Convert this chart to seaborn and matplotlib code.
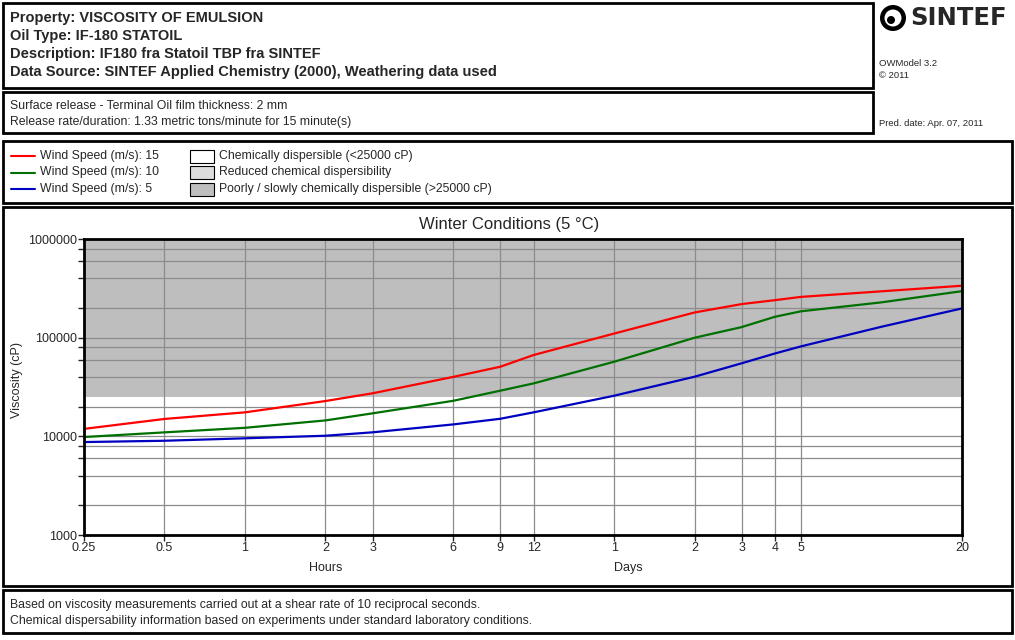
import numpy as np
import pandas as pd
import matplotlib
matplotlib.use("Agg")
import matplotlib.pyplot as plt
import matplotlib.ticker as mticker
from matplotlib.patches import Rectangle, Ellipse
from matplotlib.lines import Line2D
import seaborn as sns

# sample times in hours
hours = [0.25, 0.5, 1, 2, 3, 6, 9, 12, 24, 48, 72, 96, 120, 240, 480]
# viscosity (cP)
visc_15 = [11900, 15000, 17500, 22800, 27300, 40000, 50700, 66700, 110000,
           180000, 219000, 240000, 259000, 295000, 336000]
visc_10 = [9840, 10970, 12200, 14500, 17100, 22900, 29000, 34400, 57000,
           99800, 128000, 163000, 185000, 228000, 296000]
visc_5 = [8750, 9020, 9550, 10140, 10980, 13200, 15060, 17500, 25800,
          40200, 55000, 69200, 81600, 129000, 198000]

wind_labels = ["Wind Speed (m/s): 15", "Wind Speed (m/s): 10", "Wind Speed (m/s): 5"]
wind_colors = ["#ff0000", "#007000", "#0000c0"]

tick_hours = [0.25, 0.5, 1, 2, 3, 6, 9, 12, 24, 48, 72, 96, 120, 480]
tick_labels = ["0.25", "0.5", "1", "2", "3", "6", "9", "12", "1", "2", "3", "4", "5", "20"]
y_ticks = [1000, 10000, 100000, 1000000]
y_minor = [m * 10 ** k for k in (3, 4, 5) for m in (2, 4, 6, 8)]
threshold = 25000

header_lines = ["Property: VISCOSITY OF EMULSION",
                "Oil Type: IF-180 STATOIL",
                "Description: IF180 fra Statoil TBP fra SINTEF",
                "Data Source: SINTEF Applied Chemistry (2000), Weathering data used"]
release_lines = ["Surface release - Terminal Oil film thickness: 2 mm",
                 "Release rate/duration: 1.33 metric tons/minute for 15 minute(s)"]
zone_labels = ["Chemically dispersible (<25000 cP)",
               "Reduced chemical dispersibility",
               "Poorly / slowly chemically dispersible (>25000 cP)"]
zone_colors = ["#ffffff", "#dcdcdc", "#bebebe"]
footer_lines = ["Based on viscosity measurements carried out at a shear rate of 10 reciprocal seconds.",
                "Chemical dispersability information based on experiments under standard laboratory conditions."]

df = pd.DataFrame({
    "hours": hours * 3,
    "visc": visc_15 + visc_10 + visc_5,
    "wind": [wind_labels[0]] * len(hours) + [wind_labels[1]] * len(hours) + [wind_labels[2]] * len(hours),
})

sns.set_style("white")
plt.rcParams['font.family'] = ['Liberation Sans', 'DejaVu Sans']

W, H = 1015, 640
fig = plt.figure(figsize=(W / 100, H / 100), dpi=100)


def fx(x):
    return x / W


def fy(y):
    return 1 - y / H


def box(x0, y0, x1, y1):
    fig.add_artist(Rectangle((fx(x0), fy(y1)), fx(x1 - x0), y1 / H - y0 / H,
                             transform=fig.transFigure, fill=False, ec="black", lw=2))


def txt(x, y, s, **kw):
    fig.text(fx(x), fy(y), s, va="center", **kw)


# panels
box(3, 3, 873, 88)
box(3, 92, 873, 133)
box(3, 141, 1012, 203)
box(3, 207, 1012, 586)
box(3, 590, 1012, 633)

for i, s in enumerate(header_lines):
    txt(10, 18 + i * 18, s, fontsize=10.5, fontweight="bold")
for i, s in enumerate(release_lines):
    txt(10, 106 + i * 16, s, fontsize=8.8)
for i, s in enumerate(footer_lines):
    txt(10, 605 + i * 16, s, fontsize=8.8)

# logo and side texts
fig.add_artist(Ellipse((fx(893), fy(18)), 26 / W, 26 / H, transform=fig.transFigure,
                       fc="black", ec="none"))
fig.add_artist(Ellipse((fx(893), fy(18)), 17 / W, 17 / H, transform=fig.transFigure,
                       fc="white", ec="none"))
fig.add_artist(Ellipse((fx(891), fy(20)), 8 / W, 8 / H, transform=fig.transFigure,
                       fc="black", ec="none"))
txt(910, 18, "SINTEF", fontsize=17.5, fontweight="bold", family="DejaVu Sans")
txt(879, 64, "OWModel 3.2", fontsize=6.8)
txt(879, 75, "\u00a9 2011", fontsize=6.8)
txt(879, 124, "Pred. date: Apr. 07, 2011", fontsize=6.8)

# legend panel
for i, (lab, col) in enumerate(zip(wind_labels, wind_colors)):
    yy = 156 + i * 16.5
    fig.add_artist(Line2D([fx(11), fx(35)], [fy(yy), fy(yy)], color=col, lw=1.5,
                          transform=fig.transFigure))
    txt(40, yy, lab, fontsize=8.8)
for i, (lab, col) in enumerate(zip(zone_labels, zone_colors)):
    yy = 156 + i * 16.5
    fig.add_artist(Rectangle((fx(190), fy(yy + 6.5)), fx(24), 13 / H, transform=fig.transFigure,
                             fc=col, ec="black", lw=0.8))
    txt(219, yy, lab, fontsize=8.8)

# chart
ax = fig.add_axes([fx(84), fy(535), fx(962 - 84), (535 - 239) / H])
sns.lineplot(data=df, x="hours", y="visc", hue="wind", palette=dict(zip(wind_labels, wind_colors)),
             legend=False, ax=ax, lw=1.6, estimator=None)
ax.set_xscale("log")
ax.set_yscale("log")
ax.set_xlim(tick_hours[0], tick_hours[-1])
ax.set_ylim(y_ticks[0], y_ticks[-1])
ax.axhspan(threshold, y_ticks[-1], color="#bebebe", zorder=0, lw=0)

ax.xaxis.set_major_locator(mticker.FixedLocator(tick_hours))
ax.xaxis.set_major_formatter(mticker.FixedFormatter(tick_labels))
ax.xaxis.set_minor_locator(mticker.NullLocator())
ax.yaxis.set_major_locator(mticker.FixedLocator(y_ticks))
ax.yaxis.set_major_formatter(mticker.FixedFormatter([str(v) for v in y_ticks]))
ax.yaxis.set_minor_locator(mticker.FixedLocator(y_minor))
ax.yaxis.set_minor_formatter(mticker.NullFormatter())
ax.tick_params(axis="both", which="both", direction="out", length=4, width=1,
               labelsize=9, pad=1, left=True, bottom=True)
ax.grid(True, which="both", color="#8c8c8c", lw=0.9)
ax.set_axisbelow(True)
for sp in ax.spines.values():
    sp.set_linewidth(2)
    sp.set_color("black")
ax.set_xlabel("")
ax.set_ylabel("")
fig.text(fx(17), fy(380), "Viscosity (cP)", rotation=90, ha="center", va="center", fontsize=9)
txt(509, 225, "Winter Conditions (5 \u00b0C)", fontsize=12, ha="center")
ax.text(2, -0.11, "Hours", transform=ax.get_xaxis_transform(), ha="center", va="center", fontsize=9)
ax.text(24, -0.11, "Days", transform=ax.get_xaxis_transform(), ha="left", va="center", fontsize=9)

fig.savefig("out.png", dpi=100)
